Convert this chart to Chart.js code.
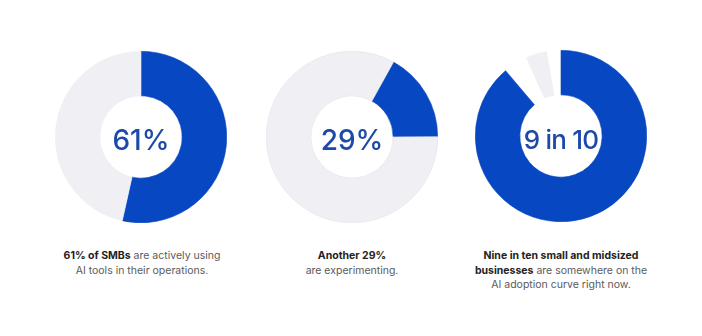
<!DOCTYPE html>
<html>
<head>
<meta charset="utf-8">
<script src="https://cdn.jsdelivr.net/npm/chart.js@4.4.0/dist/chart.umd.min.js"></script>
<style>
  html, body { margin: 0; padding: 0; background: #fff; }
  #page { position: relative; width: 702px; height: 336px; overflow: hidden; font-family: Inter, "Open Sans", sans-serif; }
  .ring { position: absolute; width: 172px; height: 172px; }
  .caption { position: absolute; width: 220px; text-align: center; font-size: 10.5px; line-height: 14.5px; color: #5a5a5a; }
  .caption b { color: #222; font-weight: 700; }
</style>
</head>
<body>
<div id="page">
  <div class="ring" style="left:55px; top:51px;"><canvas id="c1"></canvas></div>
  <div class="ring" style="left:266px; top:51px;"><canvas id="c2"></canvas></div>
  <div class="ring" style="left:475px; top:50px;"><canvas id="c3"></canvas></div>
  <div class="caption" id="cap1" style="left:32px; top:249px;"></div>
  <div class="caption" id="cap2" style="left:242px; top:249px;"></div>
  <div class="caption" id="cap3" style="left:451px; top:249px;"></div>
</div>
<script>
// ---- data ----
const centerLabels = ['61%', '29%', '9 in 10'];

// chart 1: blue share, grey rest
const adoptingValues = [53.5, 46.5];
// chart 2: blue wedge starting ~29deg past 12 o'clock
const experimentingValues = [16.9, 83.1];
const experimentingRotation = 29;
// chart 3: blue, white gap, grey sliver, white gap
const curveValues = [88.8, 4.6, 3.9, 2.7];

const captionLines = [
    ['<b>61% of SMBs</b> are actively using', 'AI tools in their operations.'],
    ['<b>Another 29%</b>', 'are experimenting.'],
    ['<b>Nine in ten small and midsized</b>', '<b>businesses</b> are somewhere on the', 'AI adoption curve right now.']
];

const BLUE = '#0747c1';
const GREY = '#efeff4';

// center text plugin
const centerText = {
    id: 'centerText',
    afterDraw(chart, args, opts) {
        const { ctx, chartArea } = chart;
        const cx = (chartArea.left + chartArea.right) / 2;
        const cy = (chartArea.top + chartArea.bottom) / 2;
        ctx.save();
        ctx.font = '500 ' + opts.size + 'px Inter, sans-serif';
        ctx.letterSpacing = opts.spacing + 'px';
        ctx.fillStyle = '#1d49a8';
        ctx.textAlign = 'center';
        ctx.textBaseline = 'alphabetic';
        ctx.fillText(opts.text, cx, cy + 12.5);
        ctx.restore();
    }
};

function makeRing(id, values, colors, borders, label, rotation, size, spacing) {
    new Chart(document.getElementById(id), {
        type: 'doughnut',
        data: {
            labels: values.map((v, i) => 'part ' + (i + 1)),
            datasets: [{
                data: values,
                backgroundColor: colors,
                borderColor: borders,
                borderWidth: 0.6,
                hoverOffset: 0
            }]
        },
        options: {
            responsive: true,
            maintainAspectRatio: true,
            animation: false,
            cutout: '48%',
            rotation: rotation,
            layout: { padding: 0 },
            plugins: {
                legend: { display: false },
                tooltip: { enabled: false },
                centerText: { text: label, size: size, spacing: spacing }
            },
            events: []
        },
        plugins: [centerText]
    });
}

makeRing('c1', adoptingValues, [BLUE, GREY], [BLUE, GREY], centerLabels[0], 0, 28, 0);
makeRing('c2', experimentingValues, [BLUE, GREY], [BLUE, '#e2e2e8'], centerLabels[1], experimentingRotation, 28, 0);
makeRing('c3', curveValues, [BLUE, 'rgba(0,0,0,0)', GREY, 'rgba(0,0,0,0)'],
    [BLUE, 'rgba(0,0,0,0)', GREY, 'rgba(0,0,0,0)'], centerLabels[2], 0, 26, -0.8);

captionLines.forEach((lines, i) => {
    document.getElementById('cap' + (i + 1)).innerHTML = lines.join('<br>');
});
</script>
</body>
</html>
